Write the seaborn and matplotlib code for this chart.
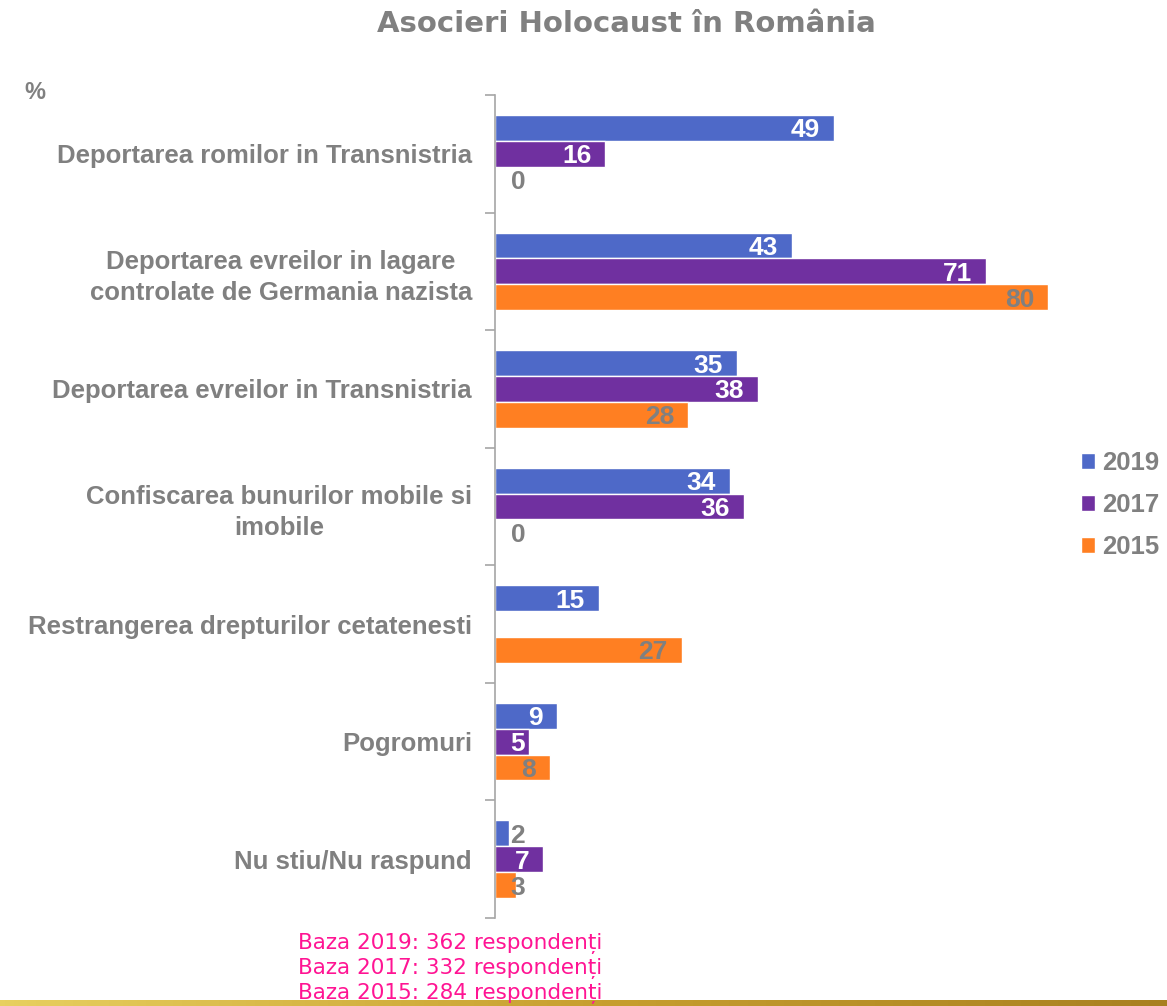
import matplotlib
matplotlib.use("Agg")
import matplotlib.pyplot as plt
import numpy as np
import pandas as pd
import seaborn as sns

# Data
categories = [
    "Deportarea romilor in Transnistria",
    "Deportarea evreilor in lagare\ncontrolate de Germania nazista",
    "Deportarea evreilor in Transnistria",
    "Confiscarea bunurilor mobile si\nimobile",
    "Restrangerea drepturilor cetatenesti",
    "Pogromuri",
    "Nu stiu/Nu raspund",
]
years = ["2019", "2017", "2015"]
values_2019 = [49, 43, 35, 34, 15, 9, 2]
values_2017 = [16, 71, 38, 36, np.nan, 5, 7]
values_2015 = [0, 80, 28, 0, 27, 8, 3]
bases = ["Baza 2019: 362 respondenți", "Baza 2017: 332 respondenți", "Baza 2015: 284 respondenți"]

colors = {"2019": "#4e69c8", "2017": "#7030a0", "2015": "#ff7f22"}
grey = "#808080"

df = pd.DataFrame({
    "categorie": categories * 3,
    "an": [y for y in years for _ in categories],
    "valoare": values_2019 + values_2017 + values_2015,
})

sns.set_style("white")
plt.rcParams["font.family"] = ["Liberation Sans", "DejaVu Sans"]

fig = plt.figure(figsize=(11.67, 10.06), dpi=100)
ax = fig.add_axes([0.424, 0.0875, 0.486, 0.818])

sns.barplot(data=df, y="categorie", x="valoare", hue="an", hue_order=years,
            palette=colors, orient="h", width=0.66, gap=0, saturation=1,
            order=categories, ax=ax, legend=True)

ax.set_xlim(0, 82)
ax.set_ylim(6.5, -0.5)
ax.set_xlabel("")
ax.set_ylabel("")
ax.set_xticks([])

for s in ["top", "right", "bottom"]:
    ax.spines[s].set_visible(False)
ax.spines["left"].set_color("#a6a6a6")
ax.spines["left"].set_linewidth(1.2)

ax.set_yticks(range(len(categories)))
ax.set_yticklabels(categories, fontsize=18.5, fontweight="bold", color=grey,
                   multialignment="center", linespacing=1.35)
ax.tick_params(axis="y", which="major", left=False, length=0, pad=16.5)
ax.set_yticks(np.arange(-0.5, len(categories), 1), minor=True)
ax.tick_params(axis="y", which="minor", left=True, length=7, width=1.2,
               color="#a6a6a6", direction="out")

# value labels (seaborn skips the missing bars, so pair with non-missing values)
for cont, yr in zip(ax.containers, years):
    vals = df[df["an"] == yr]["valoare"].dropna()
    for bar, v in zip(cont, vals):
        yc = bar.get_y() + bar.get_height() / 2
        xt = max(v - 2.0, 4.4)
        col = "white" if (yr != "2015" and v > 3) else grey
        ax.text(xt, yc, f"{int(v)}", ha="right", va="center_baseline",
                fontsize=19, fontweight="bold", color=col)

handles, labels = ax.get_legend_handles_labels()
ax.legend(handles, labels, loc="center left", frameon=False,
          bbox_to_anchor=(1058 / 1167, 1 - 505 / 1006),
          bbox_transform=fig.transFigure, labelcolor=grey,
          prop={"weight": "bold", "size": 18.5},
          handlelength=0.55, handleheight=0.55, handletextpad=0.25,
          labelspacing=0.7)

fig.text(626 / 1167, 1 - 24 / 1006, "Asocieri Holocaust în România",
         ha="center", va="center", fontsize=21, fontweight="bold",
         color=grey, family=["DejaVu Sans"])
fig.text(24 / 1167, 1 - 92 / 1006, "%", ha="left", va="center",
         fontsize=17, fontweight="bold", color=grey)

for i, t in enumerate(bases):
    fig.text(450 / 1167, 1 - (943 + 25.5 * i) / 1006, t, ha="center",
             va="center", fontsize=15.5, color="#ff1493",
             family=["Liberation Sans Narrow", "DejaVu Sans"])

# gold line at the bottom
lax = fig.add_axes([0, 0, 1, 6 / 1006])
grad = np.linspace(0, 1, 256).reshape(1, -1)
cmap = matplotlib.colors.LinearSegmentedColormap.from_list("gold", ["#e8d060", "#c8a030", "#a88020"])
lax.imshow(grad, aspect="auto", cmap=cmap)
lax.axis("off")

fig.savefig("out.png", dpi=100)
